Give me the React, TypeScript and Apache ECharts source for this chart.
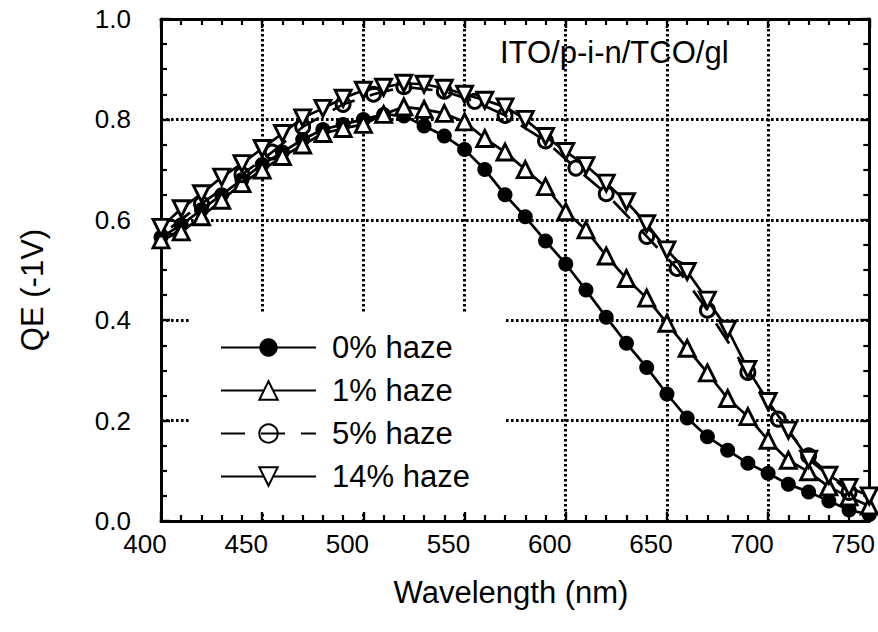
import React, { useEffect, useRef } from "react";
import * as echarts from "echarts";

// Wavelength grid (nm) for the 0 %, 1 % and 14 % haze measurements
const wavelengths = [
  400, 410, 420, 430, 440, 450, 460, 470, 480, 490, 500, 510, 520, 530, 540, 550, 560, 570,
  580, 590, 600, 610, 620, 630, 640, 650, 660, 670, 680, 690, 700, 710, 720, 730, 740, 750,
];

const haze0 = [
  0.565, 0.59, 0.62, 0.65, 0.68, 0.71, 0.735, 0.76, 0.78, 0.79, 0.8, 0.81, 0.807, 0.787, 0.767,
  0.74, 0.7, 0.65, 0.606, 0.558, 0.512, 0.46, 0.406, 0.354, 0.306, 0.253, 0.205, 0.168, 0.141,
  0.115, 0.095, 0.073, 0.058, 0.04, 0.022, 0.013,
];

const haze1 = [
  0.56, 0.576, 0.606, 0.639, 0.672, 0.699, 0.726, 0.749, 0.772, 0.782, 0.79, 0.81, 0.825, 0.82,
  0.812, 0.795, 0.762, 0.735, 0.7, 0.666, 0.616, 0.58, 0.528, 0.483, 0.444, 0.394, 0.344, 0.295,
  0.244, 0.208, 0.161, 0.121, 0.098, 0.068, 0.048, 0.03,
];

const haze14 = [
  0.585, 0.622, 0.652, 0.685, 0.712, 0.742, 0.772, 0.803, 0.822, 0.842, 0.858, 0.864, 0.872,
  0.87, 0.862, 0.85, 0.838, 0.825, 0.8, 0.766, 0.736, 0.708, 0.673, 0.636, 0.592, 0.54, 0.497,
  0.44, 0.382, 0.302, 0.238, 0.181, 0.123, 0.091, 0.067, 0.05,
];

// The 5 % haze sample was measured on its own wavelength set
const wavelengths5 = [
  405, 420, 440, 455, 470, 490, 505, 520, 540, 555, 570, 590, 605, 620, 640, 655, 670, 690, 705,
  720, 740,
];
const haze5 = [
  0.585, 0.632, 0.69, 0.735, 0.785, 0.83, 0.85, 0.865, 0.856, 0.836, 0.808, 0.757, 0.703, 0.652,
  0.567, 0.503, 0.42, 0.296, 0.203, 0.13, 0.057,
];

const seriesNames = ["0% haze", "1% haze", "5% haze", "14% haze"];

const FONT = "Liberation Sans, Arial, Helvetica, sans-serif";
const INK = "#000";

const pairs = (xs: number[], ys: number[]) => xs.map((x, i) => [x, ys[i]]);

export default function App() {
  const ref = useRef<HTMLDivElement>(null);

  useEffect(() => {
    if (!ref.current) return;
    const chart = echarts.init(ref.current, null, { renderer: "svg" });

    const grid = { left: 161, right: 7, top: 19, bottom: 111 };
    const dotted = { color: INK, width: 3, type: [2.6, 2.4] as number[] };
    const frame = { show: true, onZero: false, lineStyle: { color: INK, width: 3 } };
    const tick = { show: true, inside: true, length: 9, lineStyle: { color: INK, width: 2.4 } };
    const minor = (n: number) => ({
      show: true,
      splitNumber: n,
      length: 6,
      lineStyle: { color: INK, width: 2.2 },
    });

    const xBase = { type: "value" as const, min: 400, max: 750, interval: 50 };
    const yBase = { type: "value" as const, min: 0, max: 1, interval: 0.2 };

    const lineSeries = (
      name: string,
      data: number[][],
      symbol: string,
      size: number,
      fill: string,
      extra: Record<string, unknown> = {},
      dashed = false
    ) => ({
      name,
      type: "line",
      data,
      symbol,
      symbolSize: size,
      showSymbol: true,
      lineStyle: { color: INK, width: 2.7, type: dashed ? [24, 16] : "solid" },
      itemStyle: { color: fill, borderColor: INK, borderWidth: fill === INK ? 0 : 2.9 },
      emphasis: { disabled: true },
      z: 3,
      ...extra,
    });

    chart.setOption({
      animation: false,
      backgroundColor: "#fff",
      grid,
      xAxis: [
        {
          ...xBase,
          position: "bottom",
          axisLine: frame,
          axisTick: tick,
          minorTick: minor(5),
          splitLine: { show: true, lineStyle: dotted },
          axisLabel: {
            color: INK,
            fontFamily: FONT,
            fontSize: 26,
            margin: 10,
            padding: [0, 32, 0, 0],
          },
        },
        {
          ...xBase,
          position: "top",
          axisLine: frame,
          axisTick: tick,
          minorTick: minor(5),
          splitLine: { show: false },
          axisLabel: { show: false },
        },
      ],
      yAxis: [
        {
          ...yBase,
          position: "left",
          axisLine: frame,
          axisTick: tick,
          minorTick: minor(4),
          splitLine: { show: true, lineStyle: dotted },
          axisLabel: {
            color: INK,
            fontFamily: FONT,
            fontSize: 26,
            margin: 30,
            formatter: (v: number) => v.toFixed(1),
          },
        },
        {
          ...yBase,
          position: "right",
          axisLine: frame,
          axisTick: tick,
          minorTick: minor(4),
          splitLine: { show: false },
          axisLabel: { show: false },
        },
      ],
      legend: {
        orient: "vertical",
        left: 190,
        top: 312,
        padding: [20, 36, 20, 30],
        backgroundColor: "#fff",
        itemWidth: 95,
        itemHeight: 23,
        itemGap: 12,
        selectedMode: false,
        data: seriesNames,
        textStyle: {
          color: INK,
          fontFamily: FONT,
          fontSize: 31,
          padding: [0, 0, 0, 11],
        },
      },
      graphic: [
        {
          type: "text",
          x: 500,
          y: 52,
          style: {
            text: "ITO/p-i-n/TCO/gl",
            font: `31px ${FONT}`,
            fill: INK,
            align: "left",
            verticalAlign: "middle",
          },
        },
        {
          type: "text",
          x: 32,
          y: 290,
          rotation: Math.PI / 2,
          style: {
            text: "QE (-1V)",
            font: `31px ${FONT}`,
            fill: INK,
            align: "center",
            verticalAlign: "middle",
          },
        },
        {
          type: "text",
          x: 511,
          y: 592,
          style: {
            text: "Wavelength (nm)",
            font: `31px ${FONT}`,
            fill: INK,
            align: "center",
            verticalAlign: "middle",
          },
        },
      ],
      series: [
        lineSeries(seriesNames[0], pairs(wavelengths, haze0), "circle", 15, INK),
        lineSeries(seriesNames[1], pairs(wavelengths, haze1), "triangle", 16, "#fff"),
        lineSeries(
          seriesNames[2],
          pairs(wavelengths5, haze5),
          "circle",
          14,
          "rgba(255,255,255,0)",
          {},
          true
        ),
        lineSeries(seriesNames[3], pairs(wavelengths, haze14), "triangle", 16, "#fff", {
          symbolRotate: 180,
        }),
      ],
    });

    return () => chart.dispose();
  }, []);

  return (
    <div
      ref={ref}
      style={{ position: "fixed", left: 0, top: 0, width: 878, height: 632, background: "#fff" }}
    />
  );
}
